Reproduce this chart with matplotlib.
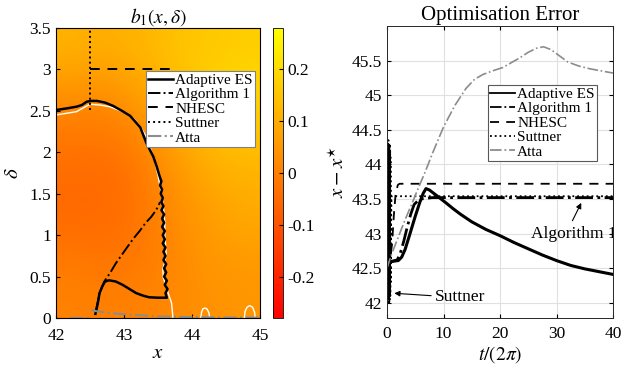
import numpy as np
import matplotlib
matplotlib.use("Agg")
import matplotlib.pyplot as plt

plt.rcParams['font.family'] = 'serif'
plt.rcParams['font.serif'] = ['Liberation Serif', 'DejaVu Serif']
plt.rcParams['mathtext.fontset'] = 'stix'

# ---------------- data: left panel field b1(x, delta) ----------------
field_x = [42.0, 42.5, 43.0, 43.5, 44.0, 44.5, 45.0]
field_d = [0.0, 0.5, 1.0, 1.5, 2.0, 2.5, 3.0, 3.5]
field_b = [
    [0.005, 0.0, 0.0, 0.01, 0.03, 0.04, 0.05],      # d=0
    [-0.01, -0.02, -0.015, 0.0, 0.03, 0.05, 0.055], # d=0.5
    [-0.04, -0.045, -0.03, 0.0, 0.04, 0.065, 0.085],# d=1
    [-0.05, -0.05, -0.035, 0.01, 0.05, 0.085, 0.10],# d=1.5
    [-0.03, -0.035, -0.02, 0.03, 0.08, 0.115, 0.13],# d=2
    [0.0, 0.0, 0.02, 0.07, 0.12, 0.155, 0.165],     # d=2.5
    [0.06, 0.05, 0.07, 0.11, 0.15, 0.18, 0.19],     # d=3
    [0.11, 0.10, 0.11, 0.13, 0.15, 0.16, 0.17],     # d=3.5
]

# white contour
white_x = [42.0, 42.15, 42.3, 42.5, 42.65, 42.79, 42.95, 43.04, 43.15, 43.24, 43.32, 43.38, 43.45,
           43.5, 43.55, 43.58, 43.6, 43.6, 43.62, 43.6, 43.57, 43.58, 43.62, 43.65, 43.7, 43.72]
white_d = [2.45, 2.47, 2.49, 2.58, 2.57, 2.55, 2.5, 2.47, 2.4, 2.31, 2.2, 2.07, 1.9,
           1.72, 1.5, 1.34, 1.15, 1.0, 0.78, 0.68, 0.58, 0.48, 0.38, 0.3, 0.18, 0.0]
loop1_x = [44.13, 44.14, 44.16, 44.19, 44.22, 44.25, 44.26]
loop1_d = [0.0, 0.07, 0.11, 0.12, 0.11, 0.06, 0.0]
loop2_x = [44.77, 44.78, 44.81, 44.85, 44.89, 44.92, 44.93]
loop2_d = [0.0, 0.08, 0.13, 0.15, 0.13, 0.07, 0.0]

# trajectories in (x, delta)
aes_x = [42.58, 42.6, 42.62, 42.64, 42.68, 42.72, 42.78, 42.88, 42.98, 43.08, 43.18, 43.28, 43.37,
         43.5, 43.63,
         43.61, 43.64, 43.6, 43.63, 43.59, 43.62, 43.59, 43.62, 43.58, 43.61, 43.58, 43.61, 43.57,
         43.6, 43.57, 43.6, 43.56, 43.59, 43.56, 43.59, 43.55, 43.58, 43.55, 43.57, 43.54, 43.56,
         43.53, 43.55, 43.52,
         43.48, 43.43, 43.33, 43.24, 43.09, 42.97, 42.84, 42.72, 42.6, 42.52, 42.45, 42.38, 42.3,
         42.16, 42.0]
aes_d = [0.05, 0.12, 0.2, 0.3, 0.38, 0.44, 0.455, 0.44, 0.4, 0.35, 0.3, 0.27, 0.25,
         0.245, 0.245,
         0.3, 0.35, 0.4, 0.45, 0.5, 0.55, 0.6, 0.65, 0.7, 0.75, 0.8, 0.85, 0.9,
         0.95, 1.0, 1.05, 1.1, 1.15, 1.2, 1.25, 1.3, 1.35, 1.4, 1.45, 1.5, 1.55,
         1.6, 1.65, 1.72,
         1.83, 1.95, 2.11, 2.3, 2.44, 2.5, 2.56, 2.6, 2.62, 2.62, 2.61, 2.57, 2.55,
         2.53, 2.51]
alg1_x = [42.59, 42.64, 42.71, 42.8, 42.88, 43.0, 43.13, 43.23, 43.32, 43.4, 43.47, 43.51, 43.53]
alg1_d = [0.1, 0.3, 0.44, 0.55, 0.66, 0.8, 0.95, 1.05, 1.15, 1.22, 1.3, 1.36, 1.4]
nhesc_x = [42.5, 43.72]
nhesc_d = [3.0, 3.0]
sutt_x = [42.5, 42.5]
sutt_d = [2.51, 3.6]
atta_x = [42.52, 42.6, 42.8, 43.0, 43.5, 44.0, 44.5, 45.0]
atta_d = [0.1, 0.08, 0.06, 0.045, 0.02, 0.01, 0.006, 0.004]
atta0_x = [42.2, 42.5]
atta0_d = [0.004, 0.004]

# ---------------- data: right panel ----------------
t_aes = [0, 0.3, 1, 2, 2.6, 3.2, 4, 5, 5.8, 6.4, 6.9, 7.5, 8.3, 9.4, 10.5, 11.7, 13, 15, 17.5, 20,
         22.5, 25, 27.5, 30, 32.5, 35, 37.5, 40]
v_aes = [42.5, 42.58, 42.6, 42.61, 42.66, 42.77, 42.98, 43.25, 43.45, 43.58, 43.65, 43.63, 43.58,
         43.51, 43.44, 43.36, 43.28, 43.17, 43.06, 42.97, 42.87, 42.78, 42.69, 42.61, 42.54, 42.49,
         42.45, 42.41]
t_alg1 = [0, 0.3, 1, 1.8, 2.3, 3, 3.6, 4.2, 4.8, 5.4, 6, 7, 8, 10, 40]
v_alg1 = [42.5, 42.57, 42.6, 42.62, 42.7, 42.9, 43.1, 43.28, 43.42, 43.47, 43.5, 43.51, 43.52, 43.52, 43.52]
t_nhesc = [0, 0.5, 0.9, 1.2, 1.5, 1.9, 2.2, 40]
v_nhesc = [42.5, 42.6, 42.85, 43.25, 43.55, 43.7, 43.72, 43.72]
t_sutt = [0, 0.15, 0.2, 0.23, 0.26, 0.29, 0.32, 0.35, 0.38, 0.41, 0.44, 0.47, 0.5, 0.53, 0.56,
          0.59, 0.62, 0.65, 0.7, 0.8, 40]
v_sutt = [42.5, 43.0, 44.3, 42.0, 44.35, 42.0, 44.3, 42.05, 44.3, 42.0, 44.25, 42.05, 44.3, 42.1,
          44.2, 42.1, 44.1, 42.3, 43.0, 43.54, 43.54]
t_atta = [0, 0.8, 2, 3.2, 4.5, 5.5, 6.7, 8, 10, 12, 14, 15.5, 17, 19, 20.5, 22, 23.5, 25, 26.5,
          27.7, 29, 30.5, 32, 34, 36, 38, 40]
v_atta = [42.5, 42.7, 42.95, 43.2, 43.45, 43.65, 43.88, 44.15, 44.54, 44.85, 45.1, 45.23, 45.3,
          45.36, 45.4, 45.47, 45.54, 45.62, 45.68, 45.7, 45.66, 45.57, 45.48, 45.42, 45.38, 45.35, 45.32]

labels = ['Adaptive ES', 'Algorithm 1', 'NHESC', 'Suttner', 'Atta']
cb_ticks = [-0.2, -0.1, 0, 0.1, 0.2]
cb_ticklabels = ['-0.2', '-0.1', '0', '0.1', '0.2']

# ---------------- figure ----------------
W, H = 621, 373
fig = plt.figure(figsize=(W / 100, H / 100), dpi=100)
ax1 = fig.add_axes([56 / W, 55 / H, 204 / W, 290 / H])
cax = fig.add_axes([273 / W, 55 / H, 10 / W, 290 / H])
ax2 = fig.add_axes([387 / W, 55 / H, 226 / W, 292 / H])

fs_tick = 12.5
im = ax1.imshow(np.array(field_b), origin='lower', cmap='autumn', vmin=-0.28, vmax=0.28,
                extent=[field_x[0], field_x[-1], field_d[0], field_d[-1]], aspect='auto',
                interpolation='bicubic')
ax1.plot(white_x, white_d, color='white', lw=1.0)
ax1.plot(loop1_x, loop1_d, color='white', lw=1.0)
ax1.plot(loop2_x, loop2_d, color='white', lw=1.0)
ax1.plot(atta0_x, atta0_d, color='0.55', lw=1.5, ls='-.', clip_on=True)
l_aes, = ax1.plot(aes_x, aes_d, color='black', lw=1.8, ls='-')
l_alg, = ax1.plot(alg1_x, alg1_d, color='black', lw=1.4, ls='-.')
l_nh, = ax1.plot(nhesc_x, nhesc_d, color='black', lw=1.4, ls=(0, (5, 4)))
l_su, = ax1.plot(sutt_x, sutt_d, color='black', lw=1.4, ls=':')
l_at, = ax1.plot(atta_x, atta_d, color='0.55', lw=1.5, ls='-.')
ax1.set_xlim(42, 45)
ax1.set_ylim(0, 3.5)
ax1.set_xticks([42, 43, 44, 45])
ax1.set_xticklabels(['42', '43', '44', '45'])
ax1.set_yticks([0, 0.5, 1, 1.5, 2, 2.5, 3, 3.5])
ax1.set_yticklabels(['0', '0.5', '1', '1.5', '2', '2.5', '3', '3.5'])
ax1.tick_params(direction='in', labelsize=fs_tick, length=3, top=False, right=False)
ax1.tick_params(axis='x', pad=7)
ax1.set_title(r'$b_1(x,\delta)$', fontsize=14, pad=4)
ax1.set_xlabel(r'$x$', fontsize=15, labelpad=0)
ax1.set_ylabel(r'$\delta$', fontsize=15, labelpad=5)
leg1 = ax1.legend([l_aes, l_alg, l_nh, l_su, l_at], labels, loc='upper right',
                  bbox_to_anchor=(0.975, 0.852), fontsize=11, fancybox=False, framealpha=1,
                  edgecolor='0.5', borderpad=0.15, labelspacing=0.05, handlelength=1.6,
                  handletextpad=0.15, borderaxespad=0)
leg1.get_frame().set_linewidth(0.8)

cb = fig.colorbar(im, cax=cax)
cb.set_ticks(cb_ticks)
cb.set_ticklabels(cb_ticklabels)
cb.ax.tick_params(direction='in', labelsize=fs_tick, length=3)
cb.outline.set_linewidth(0.6)

# right panel
r_aes, = ax2.plot(t_aes, v_aes, color='black', lw=2.2, ls='-')
r_alg, = ax2.plot(t_alg1, v_alg1, color='black', lw=2.0, ls='-.')
r_nh, = ax2.plot(t_nhesc, v_nhesc, color='black', lw=1.3, ls=(0, (5, 4)))
r_su, = ax2.plot(t_sutt, v_sutt, color='black', lw=1.3, ls=':')
r_at, = ax2.plot(t_atta, v_atta, color='0.55', lw=1.2, ls='-.')
ax2.set_xlim(0, 40)
ax2.set_ylim(41.78, 46.0)
ax2.set_xticks([0, 10, 20, 30, 40])
ax2.set_yticks([42, 42.5, 43, 43.5, 44, 44.5, 45, 45.5])
ax2.set_yticklabels(['42', '42.5', '43', '43.5', '44', '44.5', '45', '45.5'])
ax2.grid(True, color='0.88', lw=0.8)
ax2.set_axisbelow(True)
ax2.tick_params(direction='in', labelsize=fs_tick, length=3, top=True, right=True)
ax2.tick_params(axis='x', pad=6)
for s in ax2.spines.values():
    s.set_color('0.15')
    s.set_linewidth(0.7)
ax2.set_title('Optimisation Error', fontsize=15, pad=4)
ax2.set_xlabel(r'$t/(2\pi)$', fontsize=14, labelpad=1)
ax2.set_ylabel(r'$x-x^{\star}$', fontsize=15, labelpad=2)
leg2 = ax2.legend([r_aes, r_alg, r_nh, r_su, r_at], labels, loc='upper right',
                  bbox_to_anchor=(0.929, 0.798), fontsize=11, fancybox=False, framealpha=1,
                  edgecolor='0.35', borderpad=0.15, labelspacing=0.05, handlelength=1.6,
                  handletextpad=0.15, borderaxespad=0)
leg2.get_frame().set_linewidth(0.8)
for h in leg2.get_lines():
    h.set_linewidth(1.3)

ax2.annotate('', xy=(0.8, 42.14), xytext=(8.3, 42.1),
             arrowprops=dict(arrowstyle='-|>', color='black', lw=0.8, mutation_scale=8))
ax2.text(8.5, 42.08, 'Suttner', fontsize=12.5, ha='left', va='center')
ax2.annotate('', xy=(34.6, 43.48), xytext=(32.6, 43.15),
             arrowprops=dict(arrowstyle='-|>', color='black', lw=0.8, mutation_scale=8))
t_alg_label = ax2.text(25.5, 43.0, 'Algorithm 1', fontsize=12.5, ha='left', va='center',
                       clip_on=True)
t_alg_label.set_clip_path(ax2.patch)

fig.savefig('out.png', dpi=100)
